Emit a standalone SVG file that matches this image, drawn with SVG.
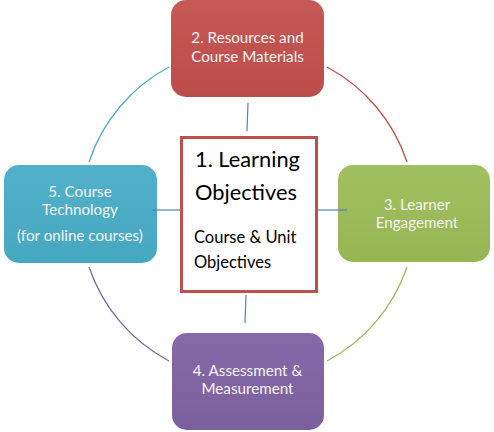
<svg xmlns="http://www.w3.org/2000/svg" width="494" height="432" viewBox="0 0 494 432">
<style>
.lbl{font-family:Lato,"Open Sans","Liberation Sans",sans-serif;font-size:15.2px;fill:#F4F4F4;text-anchor:middle}
.ctr{font-family:Lato,"Open Sans","Liberation Sans",sans-serif;fill:#000000}
.arc{fill:none;stroke-width:1.3}
.spoke{stroke:#4F81BD;stroke-width:1.2}
</style>
<defs>
<linearGradient id="gr" x1="0" y1="0" x2="0" y2="1"><stop offset="0" stop-color="#C65955"/><stop offset="1" stop-color="#BC4C49"/></linearGradient>
<linearGradient id="gb" x1="0" y1="0" x2="0" y2="1"><stop offset="0" stop-color="#52B1CA"/><stop offset="1" stop-color="#46A7C1"/></linearGradient>
<linearGradient id="gg" x1="0" y1="0" x2="0" y2="1"><stop offset="0" stop-color="#A1C061"/><stop offset="1" stop-color="#96B654"/></linearGradient>
<linearGradient id="gp" x1="0" y1="0" x2="0" y2="1"><stop offset="0" stop-color="#8669A8"/><stop offset="1" stop-color="#7C609E"/></linearGradient>
</defs>
<g id="connectors">
<path class="arc" stroke="#4BACC6" d="M169,67 A167,167 0 0 0 89,162"/>
<path class="arc" stroke="#C0504D" d="M327,67 A167,167 0 0 1 407,162"/>
<path class="arc" stroke="#8064A2" d="M89,267 A167,167 0 0 0 169,361"/>
<path class="arc" stroke="#9BBB59" d="M407,267 A167,167 0 0 1 327,361"/>
</g>
<g id="node2">
<rect x="171" y="0" width="153" height="97" rx="15" fill="url(#gr)"/>
<text class="lbl" x="247.5" y="43">2. Resources and</text>
<text class="lbl" x="247.5" y="62">Course Materials</text>
</g>
<g id="node5">
<rect x="4" y="165" width="153" height="98" rx="15" fill="url(#gb)"/>
<text class="lbl" x="80" y="197">5. Course</text>
<text class="lbl" x="80" y="215">Technology</text>
<text class="lbl" x="80" y="241">(for online courses)</text>
</g>
<g id="node3">
<rect x="338" y="165" width="152" height="97" rx="15" fill="url(#gg)"/>
<text class="lbl" x="417" y="210">3. Learner</text>
<text class="lbl" x="417" y="228">Engagement</text>
</g>
<g id="node4">
<rect x="172" y="333" width="152" height="97" rx="15" fill="url(#gp)"/>
<text class="lbl" x="247.5" y="376">4. Assessment &amp;</text>
<text class="lbl" x="247.5" y="394">Measurement</text>
</g>
<g id="spokes">
<line class="spoke" x1="248" y1="103" x2="247" y2="131"/>
<line class="spoke" x1="246" y1="295" x2="245" y2="323"/>
<line class="spoke" x1="152" y1="210" x2="180" y2="210"/>
<line class="spoke" x1="318" y1="210" x2="347" y2="210"/>
</g>
<g id="node1">
<rect x="181.5" y="137.5" width="135" height="154" fill="#ffffff" stroke="#C0504D" stroke-width="3"/>
<text class="ctr" x="195" y="167" font-size="21.8">1. Learning</text>
<text class="ctr" x="195" y="200" font-size="21.8">Objectives</text>
<text class="ctr" x="194" y="243" font-size="16.5">Course &amp; Unit</text>
<text class="ctr" x="194" y="268" font-size="16.5">Objectives</text>
</g>
</svg>
